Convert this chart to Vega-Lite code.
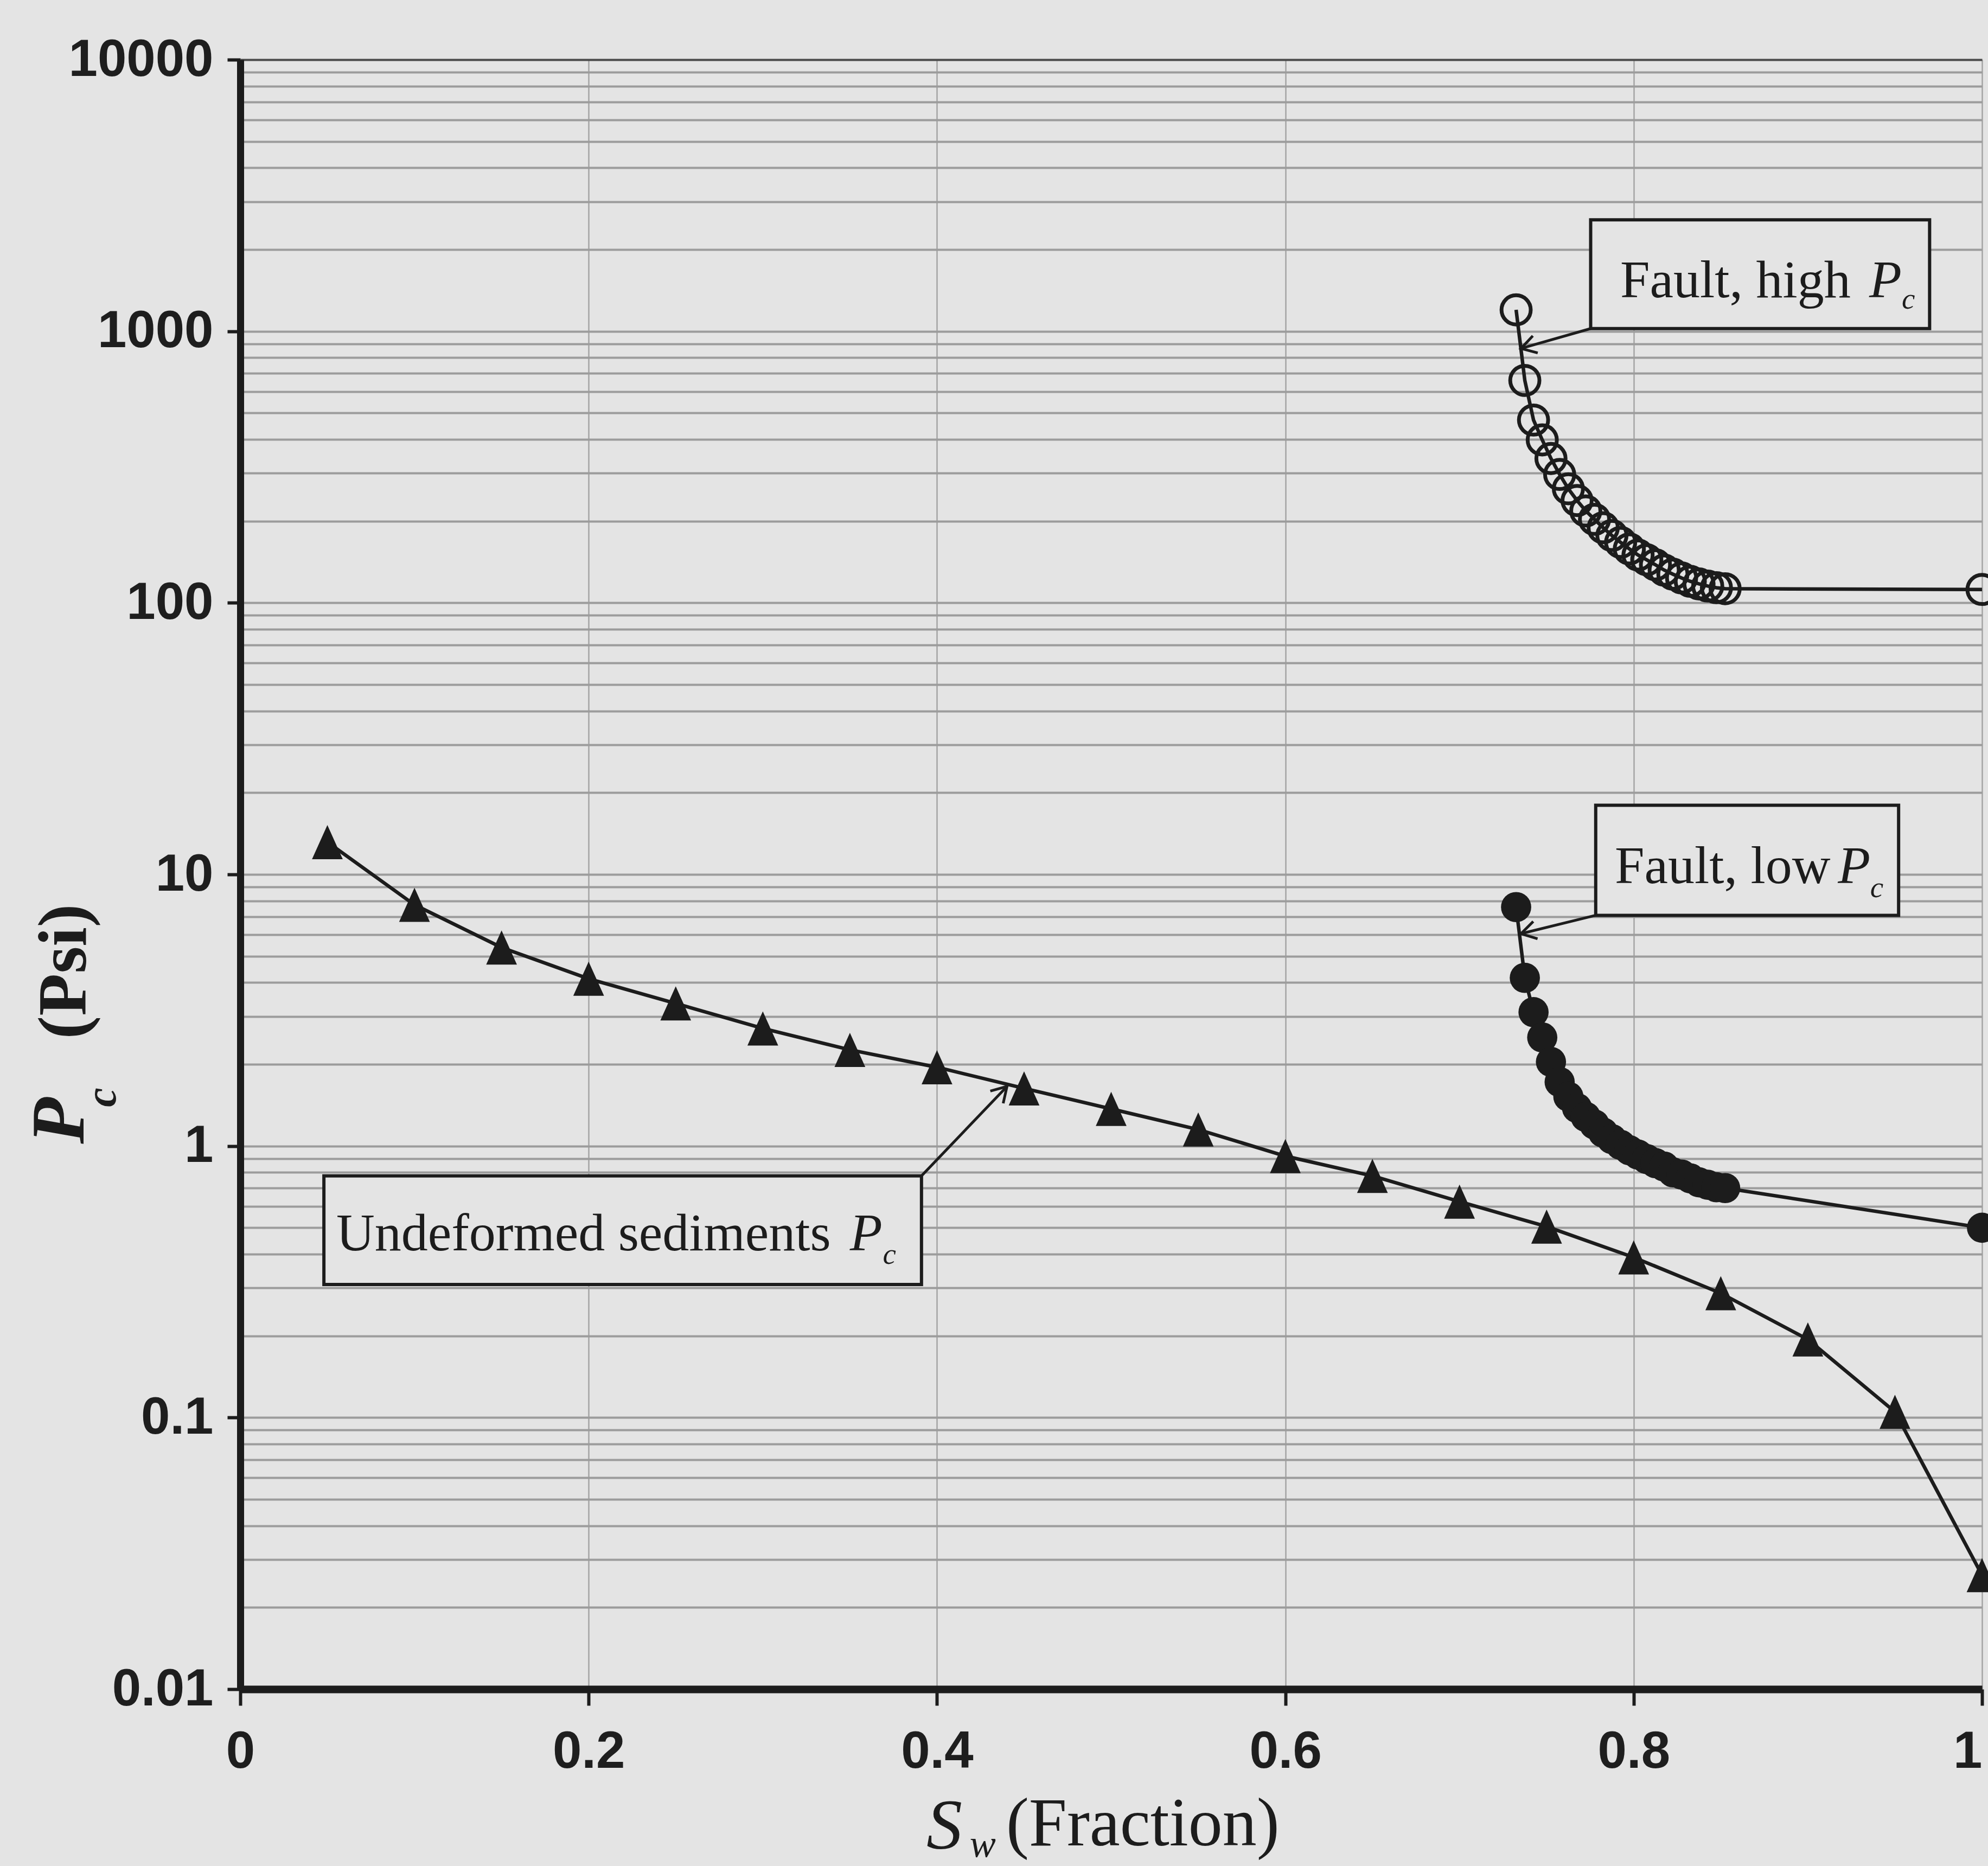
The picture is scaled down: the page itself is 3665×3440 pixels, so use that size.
{
  "$schema": "https://vega.github.io/schema/vega-lite/v6.json",
  "usermeta": {"embedOptions": {"actions": false}},
  "width": 3211,
  "height": 3004,
  "autosize": {"type": "none"},
  "padding": {"left": 443, "top": 110, "right": 11, "bottom": 326},
  "background": "#e4e4e4",
  "config": {"view": {"stroke": null}},
  "datasets": {
    "curves": [
      {"series": "Undeformed sediments", "x": 0.05, "y": 13.15},
      {"series": "Undeformed sediments", "x": 0.10, "y": 7.73},
      {"series": "Undeformed sediments", "x": 0.15, "y": 5.38},
      {"series": "Undeformed sediments", "x": 0.20, "y": 4.13},
      {"series": "Undeformed sediments", "x": 0.25, "y": 3.35},
      {"series": "Undeformed sediments", "x": 0.30, "y": 2.71},
      {"series": "Undeformed sediments", "x": 0.35, "y": 2.26},
      {"series": "Undeformed sediments", "x": 0.40, "y": 1.95},
      {"series": "Undeformed sediments", "x": 0.45, "y": 1.63},
      {"series": "Undeformed sediments", "x": 0.50, "y": 1.37},
      {"series": "Undeformed sediments", "x": 0.55, "y": 1.15},
      {"series": "Undeformed sediments", "x": 0.60, "y": 0.918},
      {"series": "Undeformed sediments", "x": 0.65, "y": 0.776},
      {"series": "Undeformed sediments", "x": 0.70, "y": 0.624},
      {"series": "Undeformed sediments", "x": 0.75, "y": 0.505},
      {"series": "Undeformed sediments", "x": 0.80, "y": 0.389},
      {"series": "Undeformed sediments", "x": 0.85, "y": 0.287},
      {"series": "Undeformed sediments", "x": 0.90, "y": 0.194},
      {"series": "Undeformed sediments", "x": 0.95, "y": 0.105},
      {"series": "Undeformed sediments", "x": 1.00, "y": 0.0263},
      {"series": "Fault, high Pc", "x": 0.7325, "y": 1199},
      {"series": "Fault, high Pc", "x": 0.7375, "y": 659},
      {"series": "Fault, high Pc", "x": 0.7425, "y": 471},
      {"series": "Fault, high Pc", "x": 0.7475, "y": 398},
      {"series": "Fault, high Pc", "x": 0.7525, "y": 340},
      {"series": "Fault, high Pc", "x": 0.7575, "y": 297},
      {"series": "Fault, high Pc", "x": 0.7625, "y": 263},
      {"series": "Fault, high Pc", "x": 0.7675, "y": 238},
      {"series": "Fault, high Pc", "x": 0.7725, "y": 218},
      {"series": "Fault, high Pc", "x": 0.7775, "y": 203},
      {"series": "Fault, high Pc", "x": 0.7825, "y": 189},
      {"series": "Fault, high Pc", "x": 0.7875, "y": 177},
      {"series": "Fault, high Pc", "x": 0.7925, "y": 167},
      {"series": "Fault, high Pc", "x": 0.7975, "y": 158},
      {"series": "Fault, high Pc", "x": 0.8025, "y": 150},
      {"series": "Fault, high Pc", "x": 0.8075, "y": 144},
      {"series": "Fault, high Pc", "x": 0.8125, "y": 138},
      {"series": "Fault, high Pc", "x": 0.8175, "y": 132},
      {"series": "Fault, high Pc", "x": 0.8225, "y": 127.5},
      {"series": "Fault, high Pc", "x": 0.8275, "y": 123.5},
      {"series": "Fault, high Pc", "x": 0.8325, "y": 120},
      {"series": "Fault, high Pc", "x": 0.8375, "y": 117.4},
      {"series": "Fault, high Pc", "x": 0.8425, "y": 115.3},
      {"series": "Fault, high Pc", "x": 0.8475, "y": 113.7},
      {"series": "Fault, high Pc", "x": 0.8525, "y": 112.7},
      {"series": "Fault, high Pc", "x": 1.0, "y": 112},
      {"series": "Fault, low Pc", "x": 0.7325, "y": 7.58},
      {"series": "Fault, low Pc", "x": 0.7375, "y": 4.16},
      {"series": "Fault, low Pc", "x": 0.7425, "y": 3.11},
      {"series": "Fault, low Pc", "x": 0.7475, "y": 2.51},
      {"series": "Fault, low Pc", "x": 0.7525, "y": 2.04},
      {"series": "Fault, low Pc", "x": 0.7575, "y": 1.72},
      {"series": "Fault, low Pc", "x": 0.7625, "y": 1.52},
      {"series": "Fault, low Pc", "x": 0.7675, "y": 1.38},
      {"series": "Fault, low Pc", "x": 0.7725, "y": 1.28},
      {"series": "Fault, low Pc", "x": 0.7775, "y": 1.20},
      {"series": "Fault, low Pc", "x": 0.7825, "y": 1.12},
      {"series": "Fault, low Pc", "x": 0.7875, "y": 1.06},
      {"series": "Fault, low Pc", "x": 0.7925, "y": 1.01},
      {"series": "Fault, low Pc", "x": 0.7975, "y": 0.965},
      {"series": "Fault, low Pc", "x": 0.8025, "y": 0.93},
      {"series": "Fault, low Pc", "x": 0.8075, "y": 0.895},
      {"series": "Fault, low Pc", "x": 0.8125, "y": 0.865},
      {"series": "Fault, low Pc", "x": 0.8175, "y": 0.84},
      {"series": "Fault, low Pc", "x": 0.8225, "y": 0.80},
      {"series": "Fault, low Pc", "x": 0.8275, "y": 0.785},
      {"series": "Fault, low Pc", "x": 0.8325, "y": 0.76},
      {"series": "Fault, low Pc", "x": 0.8375, "y": 0.735},
      {"series": "Fault, low Pc", "x": 0.8425, "y": 0.72},
      {"series": "Fault, low Pc", "x": 0.8475, "y": 0.705},
      {"series": "Fault, low Pc", "x": 0.8525, "y": 0.70},
      {"series": "Fault, low Pc", "x": 1.0, "y": 0.50}
    ],
    "boxes": [
      {"x": 0.7753, "x2": 0.9699, "y": 1023, "y2": 2573},
      {"x": 0.7782, "x2": 0.9521, "y": 7.07, "y2": 17.98},
      {"x": 0.0480, "x2": 0.3911, "y": 0.309, "y2": 0.776}
    ],
    "arrows": [
      {"x": 0.7753, "y": 1023, "x2": 0.7353, "y2": 864},
      {"x": 0.7782, "y": 7.07, "x2": 0.7353, "y2": 6.05},
      {"x": 0.3911, "y": 0.776, "x2": 0.4402, "y2": 1.657}
    ],
    "heads": [
      {"a": "high", "x": 0.7353, "y": 864},
      {"a": "low", "x": 0.7353, "y": 6.05},
      {"a": "und", "x": 0.4402, "y": 1.657}
    ],
    "labels": [
      {"k": "main", "t": "Fault, high", "x": 0.7923, "y": 1332},
      {"k": "main", "t": "Fault, low", "x": 0.7892, "y": 9.31},
      {"k": "main", "t": "Undeformed sediments", "x": 0.0551, "y": 0.413},
      {"k": "P", "t": "P", "x": 0.9352, "y": 1332},
      {"k": "P", "t": "P", "x": 0.9172, "y": 9.31},
      {"k": "P", "t": "P", "x": 0.3500, "y": 0.413},
      {"k": "c", "t": "c", "x": 0.9539, "y": 1213},
      {"k": "c", "t": "c", "x": 0.9358, "y": 8.26},
      {"k": "c", "t": "c", "x": 0.3689, "y": 0.368}
    ],
    "titles": [
      {"k": "yPsi", "t": "(Psi)", "x": -0.1006, "y": 4.39},
      {"k": "yP", "t": "P", "x": -0.1031, "y": 1.24},
      {"k": "yc", "t": "c", "x": -0.0791, "y": 1.51},
      {"k": "xS", "t": "S", "x": 0.4042, "y": 0.002587},
      {"k": "xw", "t": "w", "x": 0.4263, "y": 0.002415},
      {"k": "xF", "t": "(Fraction)", "x": 0.4397, "y": 0.00266}
    ]
  },
  "encoding": {
    "x": {
      "field": "x",
      "type": "quantitative",
      "scale": {"domain": [0, 1], "nice": false, "zero": false},
      "axis": {
        "title": null,
        "values": [0, 0.2, 0.4, 0.6, 0.8, 1],
        "grid": true,
        "gridColor": "#a4a4a4",
        "gridWidth": 2.5,
        "domain": true,
        "domainColor": "#1c1c1c",
        "domainWidth": 14,
        "ticks": true,
        "tickColor": "#1c1c1c",
        "tickWidth": 6,
        "tickSize": 30,
        "labelExpr": "toString(datum.value)",
        "labelFont": "Liberation Sans, Arial, sans-serif",
        "labelFontWeight": "bold",
        "labelFontSize": 96,
        "labelColor": "#1e1e1e",
        "labelPadding": 38,
        "labelFlush": false,
        "labelOverlap": false,
        "labelLimit": 0,
        "labelAlign": {"condition": {"test": "datum.value == 1", "value": "right"}, "value": "center"}
      }
    },
    "y": {
      "field": "y",
      "type": "quantitative",
      "scale": {"type": "log", "domain": [0.01, 10000], "nice": false},
      "axis": {
        "title": null,
        "values": [0.01, 0.02, 0.03, 0.04, 0.05, 0.06, 0.07, 0.08, 0.09, 0.1, 0.2, 0.3, 0.4, 0.5, 0.6, 0.7, 0.8, 0.9, 1, 2, 3, 4, 5, 6, 7, 8, 9, 10, 20, 30, 40, 50, 60, 70, 80, 90, 100, 200, 300, 400, 500, 600, 700, 800, 900, 1000, 2000, 3000, 4000, 5000, 6000, 7000, 8000, 9000, 10000],
        "grid": true,
        "gridColor": {"condition": {"test": "datum.value == 10000", "value": "#4a4a4a"}, "value": "#9c9c9c"},
        "gridWidth": 4,
        "domain": true,
        "domainColor": "#1c1c1c",
        "domainWidth": 13,
        "ticks": true,
        "tickColor": "#1c1c1c",
        "tickWidth": 6,
        "tickSize": 24,
        "tickOpacity": {"condition": {"test": "indexof([0.01, 0.1, 1, 10, 100, 1000, 10000], datum.value) >= 0", "value": 1}, "value": 0},
        "labelExpr": "indexof([0.01, 0.1, 1, 10, 100, 1000, 10000], datum.value) >= 0 ? toString(datum.value) : ''",
        "labelFont": "Liberation Sans, Arial, sans-serif",
        "labelFontWeight": "bold",
        "labelFontSize": 96,
        "labelColor": "#1e1e1e",
        "labelPadding": 26,
        "labelFlush": false,
        "labelOverlap": false,
        "labelLimit": 0,
        "labelBaseline": "middle"
      }
    }
  },
  "layer": [
    {
      "data": {"name": "boxes"},
      "mark": {"type": "rect", "fill": "#e4e4e4", "stroke": "#1c1c1c", "strokeWidth": 6},
      "encoding": {"x2": {"field": "x2"}, "y2": {"field": "y2"}}
    },
    {
      "data": {"name": "curves"},
      "mark": {"type": "line", "color": "#1c1c1c", "strokeWidth": 6.5},
      "encoding": {"detail": {"field": "series", "type": "nominal"}}
    },
    {
      "data": {"name": "curves"},
      "transform": [{"filter": "datum.series === 'Undeformed sediments'"}],
      "mark": {"type": "point", "shape": "M0,-1L0.9,1L-0.9,1Z", "filled": true, "color": "#1c1c1c", "size": 3969, "opacity": 1, "strokeWidth": 0}
    },
    {
      "data": {"name": "curves"},
      "transform": [{"filter": "datum.series === 'Fault, low Pc'"}],
      "mark": {"type": "point", "shape": "circle", "filled": true, "color": "#1c1c1c", "size": 3100, "opacity": 1, "strokeWidth": 0}
    },
    {
      "data": {"name": "curves"},
      "transform": [{"filter": "datum.series === 'Fault, high Pc'"}],
      "mark": {"type": "point", "shape": "circle", "filled": false, "color": "#1c1c1c", "size": 2900, "opacity": 1, "strokeWidth": 7}
    },
    {
      "data": {"name": "arrows"},
      "mark": {"type": "rule", "color": "#1c1c1c", "strokeWidth": 5},
      "encoding": {"x2": {"field": "x2"}, "y2": {"field": "y2"}}
    },
    {
      "data": {"name": "heads"},
      "transform": [{"filter": "datum.a === 'high'"}],
      "mark": {"type": "point", "shape": "M-1,-0.6L0,0L-1,0.6", "filled": false, "color": "#1c1c1c", "strokeWidth": 5, "size": 3000, "opacity": 1, "angle": 164}
    },
    {
      "data": {"name": "heads"},
      "transform": [{"filter": "datum.a === 'low'"}],
      "mark": {"type": "point", "shape": "M-1,-0.6L0,0L-1,0.6", "filled": false, "color": "#1c1c1c", "strokeWidth": 5, "size": 3000, "opacity": 1, "angle": 166}
    },
    {
      "data": {"name": "heads"},
      "transform": [{"filter": "datum.a === 'und'"}],
      "mark": {"type": "point", "shape": "M-1,-0.6L0,0L-1,0.6", "filled": false, "color": "#1c1c1c", "strokeWidth": 5, "size": 3000, "opacity": 1, "angle": 313.7}
    },
    {
      "data": {"name": "labels"},
      "transform": [{"filter": "datum.k === 'main'"}],
      "mark": {"type": "text", "font": "Liberation Serif", "fontSize": 98, "align": "left", "baseline": "alphabetic", "color": "#1c1c1c"},
      "encoding": {"text": {"field": "t"}}
    },
    {
      "data": {"name": "labels"},
      "transform": [{"filter": "datum.k === 'P'"}],
      "mark": {"type": "text", "font": "Liberation Serif", "fontSize": 98, "fontStyle": "italic", "align": "left", "baseline": "alphabetic", "color": "#1c1c1c"},
      "encoding": {"text": {"field": "t"}}
    },
    {
      "data": {"name": "labels"},
      "transform": [{"filter": "datum.k === 'c'"}],
      "mark": {"type": "text", "font": "Liberation Serif", "fontSize": 55, "fontStyle": "italic", "align": "left", "baseline": "alphabetic", "color": "#1c1c1c"},
      "encoding": {"text": {"field": "t"}}
    },
    {
      "data": {"name": "titles"},
      "transform": [{"filter": "datum.k === 'yPsi'"}],
      "mark": {"type": "text", "font": "Liberation Serif", "fontSize": 128, "fontWeight": "bold", "angle": 270, "align": "center", "baseline": "middle", "color": "#1c1c1c"},
      "encoding": {"text": {"field": "t"}}
    },
    {
      "data": {"name": "titles"},
      "transform": [{"filter": "datum.k === 'yP'"}],
      "mark": {"type": "text", "font": "Liberation Serif", "fontSize": 140, "fontWeight": "bold", "fontStyle": "italic", "angle": 270, "align": "center", "baseline": "middle", "color": "#1c1c1c"},
      "encoding": {"text": {"field": "t"}}
    },
    {
      "data": {"name": "titles"},
      "transform": [{"filter": "datum.k === 'yc'"}],
      "mark": {"type": "text", "font": "Liberation Serif", "fontSize": 80, "fontWeight": "bold", "fontStyle": "italic", "angle": 270, "align": "center", "baseline": "middle", "color": "#1c1c1c"},
      "encoding": {"text": {"field": "t"}}
    },
    {
      "data": {"name": "titles"},
      "transform": [{"filter": "datum.k === 'xS'"}],
      "mark": {"type": "text", "font": "Liberation Serif", "fontSize": 132, "fontStyle": "italic", "align": "center", "baseline": "alphabetic", "color": "#1c1c1c"},
      "encoding": {"text": {"field": "t"}}
    },
    {
      "data": {"name": "titles"},
      "transform": [{"filter": "datum.k === 'xw'"}],
      "mark": {"type": "text", "font": "Liberation Serif", "fontSize": 72, "fontStyle": "italic", "align": "center", "baseline": "alphabetic", "color": "#1c1c1c"},
      "encoding": {"text": {"field": "t"}}
    },
    {
      "data": {"name": "titles"},
      "transform": [{"filter": "datum.k === 'xF'"}],
      "mark": {"type": "text", "font": "Liberation Serif", "fontSize": 126, "align": "left", "baseline": "alphabetic", "color": "#1c1c1c"},
      "encoding": {"text": {"field": "t"}}
    }
  ]
}
